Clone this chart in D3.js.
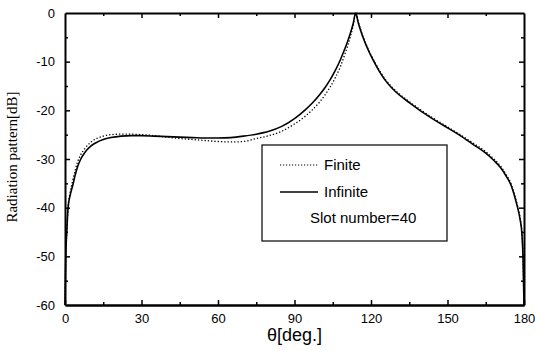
<!DOCTYPE html>
<html>
<head>
<meta charset="utf-8">
<script src="https://cdn.jsdelivr.net/npm/d3@7"></script>
<style>
    body { margin: 0; background: #fff; }
</style>
</head>
<body>
<div id="chart"></div>
<script>
// Angles (deg) sampled along the pattern
const theta = [0, 0.3, 0.7, 1.2, 2, 3, 4, 5, 6, 8,
    10, 12, 15, 18, 22, 26, 30, 35, 40, 45,
    50, 55, 60, 65, 70, 75, 80, 85, 90, 94,
    97, 100, 102, 104, 106, 108, 110, 111, 112, 113,
    114, 115, 116, 117, 118, 119, 120, 122, 124, 126,
    128, 131, 135, 140, 145, 150, 155, 160, 165, 168,
    171, 173, 175, 176.5, 177.5, 178.5, 179.2, 179.6, 180];

// Infinite array (solid)
const infinite = [-60, -50, -45, -40, -37.5, -35.5, -33.3, -31.5, -30.2, -28.5,
    -27.4, -26.7, -26.0, -25.6, -25.3, -25.2, -25.2, -25.3, -25.4, -25.5,
    -25.6, -25.7, -25.7, -25.6, -25.3, -24.9, -24.3, -23.3, -21.7, -20.0,
    -18.5, -16.7, -15.3, -13.7, -11.8, -9.6, -7.0, -5.6, -4.0, -2.2,
    0, -2.0, -3.7, -5.2, -6.5, -7.7, -8.8, -10.8, -12.6, -14.1,
    -15.3, -16.8, -18.4, -20.3, -22.0, -23.6, -25.2, -27.0, -28.8, -30.2,
    -31.9, -33.5, -35.5, -38, -40, -42.5, -45.5, -50, -60];

// Finite array (dotted)
const finite = [-60, -50, -45, -40, -37, -34.5, -32.3, -30.5, -29.3, -27.7,
    -26.6, -25.9, -25.3, -25.0, -24.9, -24.9, -25.0, -25.2, -25.5, -25.8,
    -26.0, -26.2, -26.4, -26.5, -26.4, -25.8, -25.2, -24.3, -22.8, -21.3,
    -19.9, -18.2, -16.8, -15.2, -13.3, -11.0, -8.1, -6.5, -4.7, -2.6,
    0, -1.8, -3.5, -5.0, -6.3, -7.5, -8.6, -10.6, -12.4, -13.9,
    -15.1, -16.6, -18.2, -20.1, -21.8, -23.4, -25.0, -26.7, -28.5, -29.9,
    -31.6, -33.2, -35.2, -37.7, -39.7, -42.2, -45.2, -50, -60];

const xTicks = [0, 30, 60, 90, 120, 150, 180];
const yTicks = [0, -10, -20, -30, -40, -50, -60];
const legendItems = ["Finite", "Infinite"];

const W = 535, H = 350;
const margin = { top: 13, right: 11, bottom: 45, left: 65 },
    width = W - margin.left - margin.right,
    height = H - margin.top - margin.bottom;

const svg = d3.select("#chart")
    .append("svg")
    .attr("width", W)
    .attr("height", H);

const g = svg.append("g")
    .attr("transform", "translate(" + margin.left + "," + margin.top + ")");

const x = d3.scaleLinear().domain([0, 180]).range([0, width]);
const y = d3.scaleLinear().domain([-60, 0]).range([height, 0]);

// Frame with inward ticks on all four sides
const tickFont = "13px 'Liberation Sans', Arial, sans-serif";
const plain = d => String(d); // keep ASCII hyphen for negatives
const styleAxis = sel => {
    sel.select(".domain").attr("stroke", "#000").attr("stroke-width", 2);
    sel.selectAll("line").attr("stroke", "#000").attr("stroke-width", 1.5);
};

g.append("g")
    .attr("transform", "translate(0," + height + ")")
    .call(d3.axisBottom(x).tickValues(d3.range(15, 180, 30)).tickSize(-3).tickFormat("").tickSizeOuter(0))
    .call(styleAxis);
g.append("g")
    .attr("transform", "translate(0," + height + ")")
    .call(d3.axisBottom(x).tickValues(xTicks).tickSize(-5).tickPadding(9).tickFormat(plain).tickSizeOuter(0))
    .call(styleAxis)
    .call(a => a.selectAll("text").style("font", tickFont).attr("fill", "#000"));

g.append("g")
    .call(d3.axisTop(x).tickValues(d3.range(15, 180, 15)).tickSize(0).tickFormat(""))
    .call(styleAxis)
    .call(a => a.selectAll(".tick line").attr("y2", d => d % 30 === 0 ? 5 : 3));

g.append("g")
    .call(d3.axisLeft(y).tickValues(d3.range(-55, 0, 5)).tickSize(0).tickFormat("").tickSizeOuter(0))
    .call(styleAxis)
    .call(a => a.selectAll(".tick line").attr("x2", d => d % 10 === 0 ? 5 : 3));
g.append("g")
    .call(d3.axisLeft(y).tickValues(yTicks).tickSize(0).tickPadding(10).tickFormat(plain).tickSizeOuter(0))
    .call(a => a.select(".domain").remove())
    .call(a => a.selectAll("text").style("font", tickFont).attr("fill", "#000"));

g.append("g")
    .attr("transform", "translate(" + width + ",0)")
    .call(d3.axisRight(y).tickValues(d3.range(-55, 0, 5)).tickSize(0).tickFormat("").tickSizeOuter(0))
    .call(styleAxis)
    .call(a => a.selectAll(".tick line").attr("x2", d => d % 10 === 0 ? -5 : -3));

// Pattern curves
const line = d3.line()
    .x(d => x(d[0]))
    .y(d => y(d[1]))
    .curve(d3.curveMonotoneX);

g.append("path")
    .datum(d3.zip(theta, finite))
    .attr("fill", "none")
    .attr("stroke", "#000")
    .attr("stroke-width", 1.3)
    .attr("stroke-dasharray", "1.3,2")
    .attr("d", line);

g.append("path")
    .datum(d3.zip(theta, infinite))
    .attr("fill", "none")
    .attr("stroke", "#000")
    .attr("stroke-width", 1.6)
    .attr("d", line);

// Legend box
const lg = svg.append("g");
lg.append("rect")
    .attr("x", 262).attr("y", 145)
    .attr("width", 185).attr("height", 96)
    .attr("fill", "#fff")
    .attr("stroke", "#000")
    .attr("stroke-width", 1.2);

legendItems.forEach((name, i) => {
    const ly = 165 + i * 27;
    lg.append("line")
        .attr("x1", 280).attr("x2", 318)
        .attr("y1", ly).attr("y2", ly)
        .attr("stroke", "#000")
        .attr("stroke-width", i === 0 ? 1.2 : 1.6)
        .attr("stroke-dasharray", i === 0 ? "1.2,1.8" : null);
    lg.append("text")
        .attr("x", 324).attr("y", ly + 5)
        .style("font", "15px 'Liberation Sans', Arial, sans-serif")
        .text(name);
});
lg.append("text")
    .attr("x", 310).attr("y", 223)
    .style("font", "15px 'Liberation Sans', Arial, sans-serif")
    .text("Slot number=40");

// Axis titles
svg.append("text")
    .attr("x", margin.left + x(90))
    .attr("y", 341)
    .attr("text-anchor", "middle")
    .style("font", "18px 'Liberation Sans', Arial, sans-serif")
    .text("θ[deg.]");

svg.append("text")
    .attr("transform", "translate(17,157) rotate(-90)")
    .attr("text-anchor", "middle")
    .style("font", "15px 'Liberation Serif', 'Times New Roman', serif")
    .text("Radiation pattern[dB]");
</script>
</body>
</html>
